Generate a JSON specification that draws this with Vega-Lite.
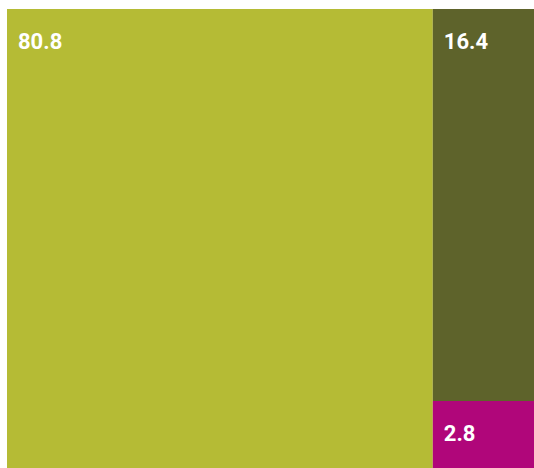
{
  "$schema": "https://vega.github.io/schema/vega-lite/v6.json",
  "width": 527,
  "height": 459,
  "autosize": {"type": "none"},
  "padding": {"left": 7, "top": 9, "right": 0, "bottom": 0},
  "background": "white",
  "config": {"view": {"stroke": null}},
  "data": {
    "values": [
      {"name": "A", "value": 80.8, "col": 1},
      {"name": "B", "value": 16.4, "col": 2},
      {"name": "C", "value": 2.8, "col": 2}
    ]
  },
  "transform": [
    {"stack": "value", "groupby": [], "sort": [{"field": "col", "order": "ascending"}, {"field": "name", "order": "ascending"}], "as": ["s0", "s1"]},
    {"joinaggregate": [{"op": "min", "field": "s0", "as": "xs"}, {"op": "max", "field": "s1", "as": "xe"}], "groupby": ["col"]},
    {"stack": "value", "groupby": ["col"], "offset": "normalize", "sort": [{"field": "name", "order": "descending"}], "as": ["y0", "y1"]}
  ],
  "encoding": {
    "x": {"field": "xs", "type": "quantitative", "scale": {"domain": [0, 100], "nice": false, "zero": false}, "axis": null},
    "y": {"field": "y1", "type": "quantitative", "scale": {"domain": [0, 1], "nice": false, "zero": false}, "axis": null}
  },
  "layer": [
    {
      "mark": {"type": "rect", "strokeWidth": 0},
      "encoding": {
        "x2": {"field": "xe"},
        "y": {"field": "y0", "type": "quantitative", "scale": {"domain": [0, 1], "nice": false, "zero": false}, "axis": null},
        "y2": {"field": "y1"},
        "color": {
          "field": "name",
          "type": "nominal",
          "scale": {"domain": ["A", "B", "C"], "range": ["#b5bb35", "#5e632b", "#b0067a"]},
          "legend": null
        }
      }
    },
    {
      "mark": {"type": "text", "align": "left", "baseline": "alphabetic", "dx": 11, "dy": 40, "font": "Roboto", "fontWeight": "bold", "fontSize": 22, "color": "white"},
      "encoding": {
        "text": {"field": "value", "type": "quantitative", "format": ".1f"}
      }
    }
  ]
}
